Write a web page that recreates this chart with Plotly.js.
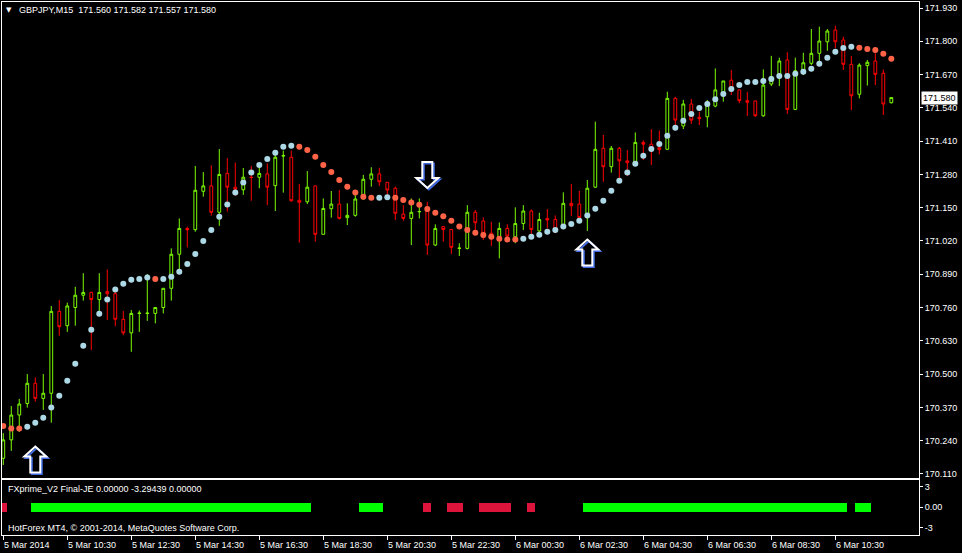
<!DOCTYPE html>
<html>
<head>
<meta charset="utf-8">
<script src="https://cdn.plot.ly/plotly-3.0.1.min.js"></script>
<style>html,body{margin:0;padding:0;background:#000;}#chart{width:962px;height:553px;}</style>
</head>
<body>
<div id="chart"></div>
<script>
// ---- data (GBPJPY M15, 5 Mar 2014 08:30 .. 6 Mar 2014 12:15) ----
const opens = [170.171,170.243,170.340,170.385,170.464,170.405,170.425,170.745,170.689,170.760,
170.808,170.819,170.791,170.822,170.814,170.714,170.661,170.737,170.737,170.737,
170.760,170.835,170.968,171.069,171.064,171.214,171.235,171.132,171.284,171.230,
171.220,171.269,171.269,171.282,171.236,171.352,171.347,171.179,171.173,171.235,
171.046,171.146,171.164,171.111,171.120,171.184,171.261,171.282,171.249,171.226,
171.125,171.108,171.134,171.137,171.004,171.076,171.065,170.991,170.991,171.132,
171.098,171.050,171.024,171.069,171.036,171.088,171.137,171.059,171.108,171.104,
171.082,171.167,171.164,171.112,171.230,171.382,171.310,171.382,171.333,171.326,
171.405,171.398,171.384,171.378,171.577,171.469,171.555,171.503,171.505,171.547,
171.590,171.648,171.610,171.568,171.567,171.509,171.633,171.664,171.727,171.534,
171.675,171.714,171.753,171.798,171.844,171.805,171.710,171.593,171.705,171.723,
171.675,171.560];
const highs = [170.269,170.375,170.403,170.500,170.487,170.500,170.766,170.789,170.779,170.841,
170.894,170.822,170.894,170.909,170.828,170.746,170.750,170.748,170.891,170.760,
170.835,170.991,171.108,171.076,171.313,171.289,171.316,171.379,171.344,171.326,
171.305,171.313,171.323,171.323,171.362,171.373,171.373,171.243,171.293,171.235,
171.186,171.215,171.219,171.167,171.200,171.278,171.308,171.306,171.249,171.232,
171.160,171.186,171.186,171.173,171.085,171.076,171.065,171.011,171.160,171.141,
171.112,171.095,171.092,171.085,171.151,171.160,171.143,171.130,171.145,171.120,
171.210,171.243,171.215,171.258,171.486,171.434,171.391,171.387,171.375,171.444,
171.413,171.457,171.451,171.603,171.583,171.571,171.575,171.525,171.571,171.694,
171.645,171.688,171.610,171.603,171.567,171.690,171.743,171.736,171.757,171.736,
171.755,171.848,171.857,171.848,171.861,171.818,171.743,171.714,171.727,171.753,
171.690,171.582];
const lows = [170.145,170.200,170.274,170.369,170.392,170.360,170.310,170.650,170.665,170.689,
170.787,170.594,170.744,170.711,170.687,170.652,170.587,170.665,170.708,170.698,
170.737,170.787,170.907,170.995,171.056,171.193,171.119,171.079,171.135,171.196,
171.200,171.177,171.226,171.160,171.137,171.209,171.173,171.013,171.164,171.017,
171.046,171.111,171.104,171.082,171.115,171.184,171.232,171.235,171.193,171.102,
171.099,171.004,171.108,170.965,171.000,171.017,170.969,170.961,170.987,171.063,
171.024,171.000,170.952,171.024,171.011,171.063,171.043,171.050,171.069,171.050,
171.069,171.117,171.099,171.059,171.227,171.251,171.287,171.265,171.274,171.313,
171.336,171.317,171.358,171.375,171.453,171.457,171.477,171.473,171.464,171.542,
171.564,171.590,171.558,171.508,171.505,171.505,171.625,171.625,171.516,171.531,
171.668,171.707,171.714,171.763,171.773,171.688,171.531,171.577,171.627,171.629,
171.512,171.557];
const closes = [170.243,170.340,170.383,170.464,170.405,170.425,170.745,170.685,170.766,170.808,
170.819,170.791,170.819,170.814,170.714,170.661,170.737,170.738,170.738,170.760,
170.835,170.968,171.069,171.064,171.218,171.235,171.132,171.280,171.230,171.222,
171.269,171.268,171.284,171.230,171.347,171.353,171.177,171.171,171.230,171.046,
171.147,171.164,171.108,171.120,171.184,171.261,171.282,171.251,171.219,171.128,
171.108,171.132,171.135,171.004,171.069,171.065,170.995,170.992,171.132,171.091,
171.050,171.039,171.069,171.039,171.088,171.137,171.065,171.104,171.102,171.065,
171.167,171.158,171.112,171.226,171.378,171.310,171.382,171.333,171.326,171.405,
171.398,171.379,171.377,171.577,171.492,171.555,171.492,171.498,171.562,171.610,
171.645,171.610,171.568,171.562,171.509,171.629,171.662,171.723,171.534,171.685,
171.716,171.753,171.801,171.840,171.798,171.710,171.587,171.707,171.718,171.671,
171.555,171.580];
// smoothed moving average (dots) and its slope colour: 1 = rising (blue), -1 = falling (red)
const maValues = [170.297,170.287,170.287,170.294,170.310,170.329,170.369,170.415,170.474,170.540,
170.611,170.673,170.736,170.791,170.830,170.853,170.868,170.871,170.877,170.871,
170.871,170.880,170.900,170.930,170.969,171.020,171.063,171.115,171.162,171.209,
171.248,171.287,171.317,171.340,171.365,171.388,171.392,171.388,171.375,171.349,
171.317,171.289,171.258,171.232,171.209,171.193,171.189,171.189,171.191,171.189,
171.180,171.170,171.161,171.145,171.130,171.117,171.099,171.076,171.063,171.052,
171.043,171.036,171.029,171.026,171.026,171.029,171.036,171.044,171.056,171.063,
171.076,171.086,171.099,171.119,171.146,171.177,171.216,171.255,171.287,171.322,
171.353,171.379,171.399,171.431,171.462,171.490,171.516,171.539,171.555,171.574,
171.594,171.614,171.629,171.641,171.641,171.645,171.653,171.664,171.664,171.673,
171.681,171.693,171.712,171.736,171.759,171.774,171.779,171.775,171.770,171.766,
171.751,171.732];
const maDir = [-1,-1,-1,1,1,1,1,1,1,1, 1,1,1,1,1,1,1,1,1,-1,
1,1,1,1,1,1,1,1,1,1, 1,1,1,1,1,1,1,-1,-1,-1,
-1,-1,-1,-1,-1,-1,-1,1,1,-1, -1,-1,-1,-1,-1,-1,-1,-1,-1,-1,
-1,-1,-1,-1,-1,1,1,1,1,1, 1,1,1,1,1,1,1,1,1,1,
1,1,1,1,1,1,1,1,1,1, 1,1,1,1,1,1,1,1,1,1,
1,1,1,1,1,1,1,-1,-1,-1, -1,-1];
// FXprime_V2 signal histogram: 1 = buy (green), -1 = sell (red), 0 = none
const signal = [-1,0,0,0,1,1,1,1,1,1, 1,1,1,1,1,1,1,1,1,1,
1,1,1,1,1,1,1,1,1,1, 1,1,1,1,1,1,1,1,1,0,
0,0,0,0,0,1,1,1,0,0, 0,0,0,-1,0,0,-1,-1,0,0,
-1,-1,-1,-1,0,0,-1,0,0,0, 0,0,0,1,1,1,1,1,1,1,
1,1,1,1,1,1,1,1,1,1, 1,1,1,1,1,1,1,1,1,1,
1,1,1,1,1,1,0,1,1,0, 0,0];
// signal arrows: candle index, price, direction
const arrowIdx = [4, 53, 73];
const arrowPrice = [170.166, 171.278, 170.975];
const arrowDir = ['up', 'down', 'up'];
// axis ticks
const timeTickIdx = [0,8,16,24,32,40,48,56,64,72,80,88,96,104];
const timeTickText = ['5 Mar 2014','5 Mar 10:30','5 Mar 12:30','5 Mar 14:30','5 Mar 16:30','5 Mar 18:30',
  '5 Mar 20:30','5 Mar 22:30','6 Mar 00:30','6 Mar 02:30','6 Mar 04:30','6 Mar 06:30','6 Mar 08:30','6 Mar 10:30'];
const priceTicks = [170.110,170.240,170.370,170.500,170.630,170.760,170.890,171.020,171.150,171.280,171.410,171.540,171.670,171.800,171.930];
const lastPrice = 171.580;
const headerText = 'GBPJPY,M15\u00a0\u00a0171.560 171.582 171.557 171.580';
const indicatorText = 'FXprime_V2 Final-JE 0.00000 -3.29439 0.00000';
const footerText = 'HotForex MT4, \u00a9 2001-2014, MetaQuotes Software Corp.';

// ---- build ----
const idx = opens.map((_, i) => i);
const FONT = 'Liberation Sans, Arial, sans-serif';
const GREEN = '#7CFC00', RED = '#FF0000';

const candles = {
  type: 'candlestick', x: idx, open: opens, high: highs, low: lows, close: closes,
  xaxis: 'x', yaxis: 'y', whiskerwidth: 0, hoverinfo: 'skip',
  increasing: {line: {color: GREEN, width: 1}, fillcolor: '#000000'},
  decreasing: {line: {color: RED, width: 1}, fillcolor: '#000000'}
};
const maUp = {
  type: 'scatter', mode: 'markers', x: idx, xaxis: 'x', yaxis: 'y', hoverinfo: 'skip',
  y: maValues.map((v, i) => maDir[i] > 0 ? v : null),
  marker: {color: '#ADD8E6', size: 6, line: {width: 0}}
};
const maDown = {
  type: 'scatter', mode: 'markers', x: idx, xaxis: 'x', yaxis: 'y', hoverinfo: 'skip',
  y: maValues.map((v, i) => maDir[i] < 0 ? v : null),
  marker: {color: '#FF6347', size: 6, line: {width: 0}}
};
const HALF = 0.7;
const hist = {
  type: 'bar', x: idx, xaxis: 'x2', yaxis: 'y2', hoverinfo: 'skip', width: 1,
  y: signal.map(s => s !== 0 ? 2 * HALF : null),
  base: signal.map(() => -HALF),
  marker: {color: signal.map(s => s > 0 ? '#00FF00' : '#DC143C'), line: {width: 0}}
};

function arrowPath(dir, dx, dy) {
  const s = dir === 'up' ? 1 : -1;
  const pts = [[0,13],[11,3],[5,3],[5,-13],[-5,-13],[-5,3],[-11,3]];
  return 'M' + pts.map(p => (p[0] + dx) + ',' + (s * p[1] + dy)).join(' L') + ' Z';
}
const shapes = [];
arrowIdx.forEach((xi, k) => {
  const common = {type: 'path', xref: 'x', yref: 'y', xsizemode: 'pixel', ysizemode: 'pixel',
    xanchor: xi, yanchor: arrowPrice[k], layer: 'above'};
  shapes.push(Object.assign({}, common, {path: arrowPath(arrowDir[k], 1.5, -1.5),
    line: {color: '#4169E1', width: 2}, fillcolor: 'rgba(0,0,0,0)'}));
  shapes.push(Object.assign({}, common, {path: arrowPath(arrowDir[k], 0, 0),
    line: {color: '#FFFFFF', width: 2}, fillcolor: 'rgba(0,0,0,0)'}));
});

const H = 553, T = 2, B = 18, plotH = H - T - B;
const mainBottomPx = 478, subTopPx = 480;
const pyMain = (H - B - mainBottomPx) / plotH;
const pySub = (H - B - subTopPx) / plotH;
const pyOf = px => (H - B - px) / plotH;

const annotations = [
  {xref: 'paper', yref: 'paper', x: 7 / 917, y: pyOf(10), text: '\u25BC', showarrow: false,
   xanchor: 'center', yanchor: 'middle', font: {family: 'DejaVu Sans', size: 7, color: '#FFFFFF'}, borderpad: 0},
  {xref: 'paper', yref: 'paper', x: 16 / 917, y: pyOf(10), text: headerText, showarrow: false,
   xanchor: 'left', yanchor: 'middle', font: {family: FONT, size: 9, color: '#FFFFFF'}, borderpad: 0},
  {xref: 'paper', yref: 'paper', x: 5 / 917, y: pyOf(489), text: indicatorText, showarrow: false,
   xanchor: 'left', yanchor: 'middle', font: {family: FONT, size: 9, color: '#FFFFFF'}, borderpad: 0},
  {xref: 'paper', yref: 'paper', x: 5 / 917, y: pyOf(527.5), text: footerText, showarrow: false,
   xanchor: 'left', yanchor: 'middle', font: {family: FONT, size: 9, color: '#FFFFFF'}, borderpad: 0},
  {xref: 'paper', yref: 'y', x: 1, y: lastPrice, text: lastPrice.toFixed(3), showarrow: false,
   xanchor: 'left', yanchor: 'middle', xshift: 2, bgcolor: '#FFFFFF', borderpad: 1,
   font: {family: FONT, size: 9, color: '#000000'}}
];
timeTickIdx.forEach((t, k) => {
  annotations.push({xref: 'x2', yref: 'paper', x: t, y: 0, yshift: -4, text: timeTickText[k],
    showarrow: false, xanchor: 'left', yanchor: 'top', xshift: 0, borderpad: 0,
    font: {family: FONT, size: 9, color: '#FFFFFF'}});
});

const xRange = [-0.16, 114.46];
const axBase = {showgrid: false, zeroline: false, showline: true, mirror: true, linecolor: '#FFFFFF',
  linewidth: 1, fixedrange: true};
const layout = {
  width: 962, height: 553,
  paper_bgcolor: '#000000', plot_bgcolor: '#000000',
  margin: {l: 2, r: 43, t: T, b: B, pad: 0},
  showlegend: false, hovermode: false, dragmode: false,
  font: {family: FONT, size: 9, color: '#FFFFFF'},
  boxgap: 0.5, bargap: 0,
  xaxis: Object.assign({}, axBase, {domain: [0, 1], anchor: 'y', range: xRange, showticklabels: false,
    ticks: '', rangeslider: {visible: false}}),
  yaxis: Object.assign({}, axBase, {domain: [pyMain, 1], anchor: 'x', side: 'right',
    range: [171.96125 - 478 / 256, 171.96125 - 2 / 256],
    tickmode: 'array', tickvals: priceTicks, ticktext: priceTicks.map(v => v.toFixed(3)),
    ticks: 'outside', ticklen: 3, tickcolor: '#FFFFFF', tickfont: {family: FONT, size: 9, color: '#FFFFFF'}}),
  xaxis2: Object.assign({}, axBase, {domain: [0, 1], anchor: 'y2', range: xRange, showticklabels: false,
    tickmode: 'array', tickvals: timeTickIdx, ticks: 'outside', ticklen: 4, tickcolor: '#FFFFFF'}),
  yaxis2: Object.assign({}, axBase, {domain: [0, pySub], anchor: 'x2', side: 'right', range: [-4.05, 4.0],
    tickmode: 'array', tickvals: [3, 0, -3], ticktext: ['3', '0.00', '-3'],
    ticks: 'outside', ticklen: 3, tickcolor: '#FFFFFF', tickfont: {family: FONT, size: 9, color: '#FFFFFF'}}),
  shapes: shapes,
  annotations: annotations
};

Plotly.newPlot('chart', [candles, maDown, maUp, hist], layout, {staticPlot: true, displayModeBar: false});
</script>
</body>
</html>
